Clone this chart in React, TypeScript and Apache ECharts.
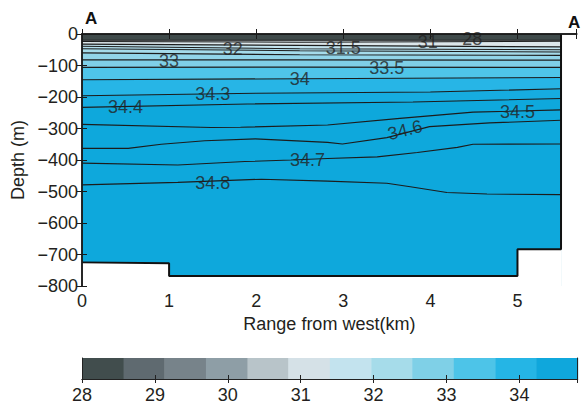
import React, { useEffect, useRef } from 'react';
import * as echarts from 'echarts';

// Range from west (km), depth (m) — contour lines of salinity
const surface = [[0, 0], [5.5, 0]];
const c28 = [[0, -20], [5.5, -20]];
const c31 = [[0, -24], [2.5, -26], [5.5, -23]];
const c31_5 = [[0, -32], [2.5, -36], [5.5, -41]];
const c32 = [[0, -39], [2.5, -47], [5.5, -50]];
const c32_5 = [[0, -47], [2.5, -53], [5.5, -57]];
const c32_8 = [[0, -60], [2.5, -66], [5.5, -68]];
const c33 = [[0, -82], [2.5, -82], [5.5, -83]];
const c33_5 = [[0, -106], [2.5, -105], [5.5, -106]];
const c34 = [[0, -145], [2.5, -142], [5.5, -138]];
const c34_3 = [[0, -196], [2, -188], [4, -184], [5.5, -174]];
const c34_4 = [[0, -233], [1.9, -222], [3.8, -216], [5.5, -205]];
const c34_5 = [[0, -287], [1.48, -297], [1.82, -296], [2.82, -289], [3.65, -268], [4.49, -248], [5.5, -241]];
const c34_6 = [[0, -363], [0.53, -363], [0.91, -350], [1.41, -339], [1.99, -333], [2.82, -344], [2.99, -349], [3.5, -329], [3.99, -294], [4.68, -282], [5.5, -274]];
const c34_7 = [[0, -410], [1.1, -416], [1.87, -405], [2.4, -400], [2.82, -395], [3.39, -390], [3.85, -376], [4.31, -360], [4.49, -350], [5.5, -349]];
const c34_8 = [[0, -479], [1.1, -471], [2.06, -461], [2.82, -467], [3.5, -474], [3.77, -485], [4.19, -503], [4.65, -508], [5.5, -510]];

const contourLines = [c28, c31, c31_5, c32, c32_5, c32_8, c33, c33_5, c34, c34_3, c34_4, c34_5, c34_6, c34_7, c34_8];

// Sea floor / section boundary
const bottomProfile = [[0, -725], [1, -728], [1, -768], [5, -768], [5, -683], [5.5, -683], [5.5, 0]];

// Contour labels
const labelTexts = ['28', '31', '31.5', '32', '33', '33.5', '34', '34.3', '34.4', '34.5', '34.6', '34.7', '34.8'];
const labelRange = [4.48, 3.97, 3.0, 1.73, 1.0, 3.5, 2.5, 1.5, 0.5, 5.0, 3.71, 2.59, 1.5];
const labelDepth = [-16, -25, -43, -49, -86, -107, -144, -192, -233, -248, -305, -400, -474];
const labelTilt = [0, 0, 0, 0, 0, 0, 0, 0, 0, 0, 14, 0, 0];

// Colour bar
const cbEdges = [28, 28.57, 29.13, 29.7, 30.27, 30.83, 31.4, 31.97, 32.53, 33.1, 33.67, 34.23, 34.8];
const cbColors = ['#414d4d', '#5f6a70', '#77838a', '#8e9ea6', '#b8c4c9', '#d5e1e7', '#c3e3ee', '#a6dcea', '#7fd0e7', '#4dc4e8', '#25b5e5', '#0fa7dc'];

// fill colours: surface layer, then band below each contour line
const bandColors = ['#3f4a4a', '#d0dade', '#dce6ea', '#c3e3ee', '#b2dfed', '#a5dbea', '#92d5e9', '#7fcfe7', '#4fc5e9', '#27b5e6', '#16ace0', '#0ea8dc', '#0ea8dc', '#0ea8dc', '#0ea8dc', '#0ea8dc'];

const FONT = 'Liberation Sans';
const TXT = '#231f20';

export default function App() {
  const ref = useRef<HTMLDivElement>(null);
  useEffect(() => {
    if (!ref.current) return;
    const chart = echarts.init(ref.current, null, { renderer: 'svg' });
    const series: any[] = [];
    series.push({
      type: 'line', xAxisIndex: 0, yAxisIndex: 0, data: surface, symbol: 'none',
      lineStyle: { width: 0 }, areaStyle: { color: bandColors[0], opacity: 1, origin: 'start' }, z: 2,
    });
    contourLines.forEach((pts, i) => {
      series.push({
        type: 'line', xAxisIndex: 0, yAxisIndex: 0, data: pts, symbol: 'none',
        lineStyle: { color: '#1c1c1c', width: 1.1 },
        areaStyle: { color: bandColors[i + 1], opacity: 1, origin: 'start' }, z: 3 + i,
      });
    });
    series.push({
      type: 'line', xAxisIndex: 0, yAxisIndex: 0, data: bottomProfile, symbol: 'none',
      lineStyle: { color: '#111', width: 2 },
      areaStyle: { color: '#ffffff', opacity: 1, origin: 'start' }, z: 30,
    });
    series.push({
      type: 'scatter', xAxisIndex: 0, yAxisIndex: 0, symbolSize: 1, z: 40,
      itemStyle: { color: 'rgba(0,0,0,0)' },
      data: labelTexts.map((t, i) => ({
        name: t, value: [labelRange[i], labelDepth[i]],
        label: { rotate: labelTilt[i] },
      })),
      label: { show: true, position: 'inside', formatter: '{b}', fontSize: 18, color: '#222', fontFamily: FONT },
    });
    series.push({
      type: 'custom', xAxisIndex: 2, yAxisIndex: 2, z: 5,
      data: cbColors.map((c, i) => [cbEdges[i], cbEdges[i + 1]]),
      encode: { x: [0, 1] },
      renderItem: (params: any, api: any) => {
        const p0 = api.coord([api.value(0), 1]);
        const p1 = api.coord([api.value(1), 0]);
        return {
          type: 'rect',
          shape: { x: p0[0], y: p0[1], width: p1[0] - p0[0] + 0.5, height: p1[1] - p0[1] },
          style: { fill: cbColors[params.dataIndex] },
        };
      },
    });

    const axLine = { show: true, lineStyle: { color: '#1a1a1a', width: 1.5 } };
    const tickIn = { show: true, inside: true, length: 5, lineStyle: { color: '#1a1a1a', width: 1 } };
    const lbl = { fontSize: 18, color: TXT, fontFamily: FONT };

    chart.setOption({
      animation: false,
      backgroundColor: '#ffffff',
      textStyle: { fontFamily: FONT },
      grid: [
        { left: 82, top: 34, width: 494.7, height: 252 },
        { left: 82, top: 358, width: 495.7, height: 21 },
      ],
      xAxis: [
        {
          type: 'value', gridIndex: 0, position: 'bottom', min: 0, max: 5.68, interval: 1, z: 50,
          axisLine: axLine, axisTick: tickIn, splitLine: { show: false },
          axisLabel: { ...lbl, margin: 6, formatter: (v: number) => (Number.isInteger(v) ? String(v) : '') },
          name: 'Range from west(km)', nameLocation: 'middle', nameGap: 24,
          nameTextStyle: { fontSize: 18, color: TXT, fontFamily: FONT },
        },
        {
          type: 'value', gridIndex: 0, position: 'top', min: 0, max: 5.68, interval: 1, z: 50,
          axisLine: axLine, axisTick: tickIn, splitLine: { show: false }, axisLabel: { show: false },
        },
        {
          type: 'value', gridIndex: 1, position: 'bottom', min: 28, max: 34.8, interval: 1, z: 50,
          axisLine: { show: true, lineStyle: { color: '#222', width: 1 } },
          axisTick: { show: true, inside: true, length: 4, lineStyle: { color: '#222' } },
          splitLine: { show: false },
          axisLabel: { ...lbl, margin: 7, formatter: (v: number) => (Number.isInteger(v) ? String(v) : '') },
        },
        {
          type: 'value', gridIndex: 1, position: 'top', min: 28, max: 34.8, interval: 1, z: 50,
          axisLine: { show: true, lineStyle: { color: '#222', width: 1 } },
          axisTick: { show: true, inside: true, length: 4, lineStyle: { color: '#222' } },
          splitLine: { show: false }, axisLabel: { show: false },
        },
      ],
      yAxis: [
        {
          type: 'value', gridIndex: 0, position: 'left', min: -800, max: 0, interval: 100, z: 50,
          axisLine: axLine, axisTick: tickIn, splitLine: { show: false },
          axisLabel: { ...lbl, margin: 4, formatter: (v: number) => (v === 0 ? '0' : '\u2212' + Math.abs(v)) },
          name: 'Depth (m)', nameLocation: 'middle', nameGap: 49,
          nameTextStyle: { fontSize: 18, color: TXT, fontFamily: FONT },
        },
        {
          type: 'value', gridIndex: 0, position: 'right', min: -800, max: 0, interval: 100, z: 50,
          axisLine: axLine, axisTick: tickIn, splitLine: { show: false }, axisLabel: { show: false },
        },
        {
          type: 'value', gridIndex: 1, position: 'left', min: 0, max: 1, z: 50,
          axisLine: { show: true, lineStyle: { color: '#222', width: 1 } },
          axisTick: { show: false }, splitLine: { show: false }, axisLabel: { show: false },
        },
        {
          type: 'value', gridIndex: 1, position: 'right', min: 0, max: 1, z: 50,
          axisLine: { show: true, lineStyle: { color: '#222', width: 1 } },
          axisTick: { show: false }, splitLine: { show: false }, axisLabel: { show: false },
        },
      ],
      graphic: [
        { type: 'text', left: 85, top: 10, style: { text: 'A', font: `bold 17px "${FONT}"`, fill: '#111' } },
        { type: 'text', left: 568, top: 14, style: { text: 'A', font: `bold 17px "${FONT}"`, fill: '#111' } },
      ],
      series,
    });
    return () => chart.dispose();
  }, []);
  return <div ref={ref} style={{ position: 'fixed', left: 0, top: 0, width: 582, height: 405, background: '#fff' }} />;
}
